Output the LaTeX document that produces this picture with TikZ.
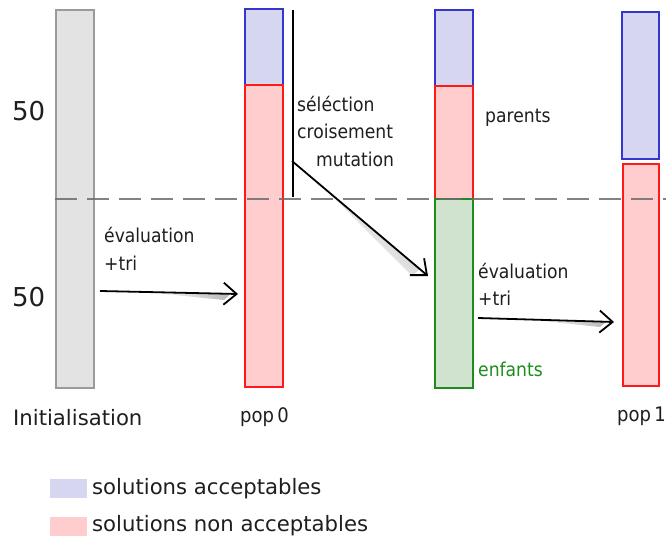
\documentclass[tikz,border=0pt]{standalone}
\usepackage{fontspec}
\setmainfont{DejaVu Sans}
\newfontfamily\narrowfont{DejaVu Sans Condensed}
\usetikzlibrary{arrows.meta}
\definecolor{accfill}{HTML}{D6D6F0}
\definecolor{accdraw}{HTML}{3535D0}
\definecolor{nacfill}{HTML}{FFCDCD}
\definecolor{nacdraw}{HTML}{FF1A1A}
\definecolor{kidfill}{HTML}{CFE3CF}
\definecolor{kiddraw}{HTML}{1E8C1E}
\definecolor{inifill}{HTML}{E3E3E3}
\definecolor{inidraw}{HTML}{9A9A9A}
\definecolor{ink}{HTML}{1E1E1E}
\tikzset{
  acc/.style={fill=accfill,draw=accdraw,line width=1.6pt},
  nac/.style={fill=nacfill,draw=nacdraw,line width=1.6pt},
  kid/.style={fill=kidfill,draw=kiddraw,line width=1.6pt},
  ini/.style={fill=inifill,draw=inidraw,line width=1.6pt},
  lab/.style={text=ink,font=\narrowfont\fontsize{19.1}{22}\selectfont,inner sep=0pt,anchor=west},
  big/.style={text=ink,font=\fontsize{26}{30}\selectfont,inner sep=0pt,anchor=west},
  bottom/.style={text=ink,font=\fontsize{21.2}{25}\selectfont,inner sep=0pt,anchor=west},
  poplab/.style={text=ink,font=\narrowfont\fontsize{20}{24}\selectfont,inner sep=0pt,anchor=west},
  flow/.style={draw=black,line width=1.8pt,-{Straight Barb[length=13pt,width=22pt,line width=1.8pt]}},
  legbox/.style={fill=#1,draw=none,minimum width=37pt,minimum height=19pt,inner sep=0pt},
}
\begin{document}
\begin{tikzpicture}[x=1pt,y=-1pt]
\useasboundingbox (0,0) rectangle (666,540);

% bars
\draw[ini] (56,10) rectangle (94,388);
\draw[acc] (245,9) rectangle (283,85);
\draw[nac] (245,85) rectangle (283,387);
\draw[acc] (435,10) rectangle (473,86);
\draw[nac] (435,86) rectangle (473,199);
\draw[kid] (435,199) rectangle (473,388);
\draw[acc] (622,12) rectangle (659,159);
\draw[nac] (623,164) rectangle (659,386);

% threshold between the two halves, drawn over the bars
\draw[gray!85!black,opacity=0.85,line width=1.6pt,dash pattern=on 22pt off 10pt] (55,199) -- (666,199);

% operator bracket
\coordinate (bt) at (293,10);
\coordinate (bb) at (293,197);
\draw[line width=1.6pt] (bt) -- (bb);

% arrow end points
\coordinate (a1s) at (100,291);
\coordinate (a1e) at (238,294);
\coordinate (a2s) at (292,161);
\coordinate (a2e) at (428,276);
\coordinate (a3s) at (478,318);
\coordinate (a3e) at (614,322);

% soft shadows under the arrows
\shade[left color=white,right color=gray!55] (150,292.5) -- (230,294.5) -- (224,300) -- cycle;
\shade[left color=white,right color=gray!55] (528,319.5) -- (606,322) -- (600,327) -- cycle;
\shade[left color=white,right color=gray!45,shading angle=130]
  (320,184) -- (420,269) -- (412,276) -- cycle;

\draw[flow] (a1s) -- (a1e);
\draw[flow] (a2s) -- (a2e);
\draw[flow] (a3s) -- (a3e);

% texts
\node[big] (n50a) at (12,111) {50};
\node[big] (n50b) at (12,297) {50};
\node[lab] (ev1) at (104,235) {évaluation};
\node[lab] (tr1) at (104,263) {+tri};
\node[lab] (sel) at (297,104) {séléction};
\node[lab] (cro) at (297,131) {croisement};
\node[lab] (mut) at (316,159) {mutation};
\node[lab] (par) at (485,118) {parents};
\node[lab] (ev2) at (478,271) {évaluation};
\node[lab] (tr2) at (478,298) {+tri};
\node[lab,text=kiddraw] (enf) at (478,369) {enfants};
\node[bottom] (ini) at (13,418) {Initialisation};
\node[poplab] (p0) at (240,417) {pop\,0};
\node[poplab] (p1) at (617,416) {pop\,1};

% legend
\node[legbox=accfill,anchor=west] (lg1) at (50,488) {};
\node[bottom] (lt1) at (92,489) {solutions acceptables};
\node[legbox=nacfill,anchor=west] (lg2) at (50,526) {};
\node[bottom] (lt2) at (92,526) {solutions non acceptables};
\end{tikzpicture}
\end{document}
